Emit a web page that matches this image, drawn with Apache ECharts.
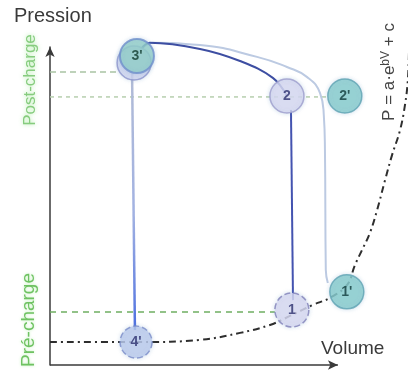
<!DOCTYPE html>
<html>
<head>
<meta charset="utf-8">
<title>Boucle pression-volume</title>
<script src="https://cdn.jsdelivr.net/npm/echarts@6/dist/echarts.min.js"></script>
<style>
  html, body { margin: 0; padding: 0; background: #ffffff; }
  #chart { width: 409px; height: 381px; }
</style>
</head>
<body>
<div id="chart"></div>
<script>
// Pressure-volume loop (arbitrary units; the drawn volume axis stops at 100)

// Labelled states of the cycle
const pointNames    = ["3", "3'", "2", "2'", "1", "1'", "4'"];
const pointVolume   = [29.2, 30.2, 82.3, 102.4, 84.0, 103.1, 29.9];
const pointPressure = [95.0, 97.2, 84.6, 84.6, 17.3, 23.0, 7.2];

// Ejection curve 3' -> 2 (dark loop)
const ejectVolume   = [30.2, 34.7, 52.1, 66.0, 77.4, 82.3];
const ejectPressure = [97.2, 101.3, 99.4, 95.6, 90.3, 84.6];

// Isovolumic contraction 2 -> 1
const contractVolume   = [83.7, 84.4];
const contractPressure = [80.2, 20.4];

// Isovolumic relaxation 3' -> 4'
const relaxVolume   = [28.5, 29.5];
const relaxPressure = [92.1, 11.0];

// Enlarged loop (after loading): top and right side
const loadVolume   = [30.2, 35.8, 52.1, 71.9, 82.3, 89.2, 93.8, 95.1, 95.5, 95.8, 96.5];
const loadPressure = [97.2, 101.3, 100.6, 96.9, 93.7, 90.6, 85.5, 78.6, 67.6, 29.9, 25.8];

// End-diastolic pressure-volume relation
const edpvrVolume   = [0, 31.3, 52.1, 66.0, 76.4, 84.0, 91.3, 97.2, 103.2, 105.9, 108.4, 111.1, 113.6, 116.4, 118.8, 121.6, 123.3, 124.3, 124.7];
const edpvrPressure = [7.2, 7.2, 7.9, 10.1, 12.6, 15.7, 18.9, 21.1, 25.2, 31.4, 36.2, 41.5, 48.7, 58.2, 66.0, 73.9, 81.8, 89.6, 99.1];

// Load levels
const afterloadHigh = 92.1;
const afterloadHighEnd = 23.6;
const afterload = 84.3;
const afterloadEnd = 96.0;
const preload = 16.7;
const preloadEnd = 78.1;

// Drawn extent of the volume axis
const volumeAxisEnd = 100;

const zip = (xs, ys) => xs.map((x, i) => [x, ys[i]]);

const lavender = { color: '#d9d9f1', borderColor: '#9c9ccc', borderWidth: 1.5 };
const teal = { color: '#86cccc', borderColor: '#5fa3b3', borderWidth: 1.5 };
const styles = {
  "3":  { color: '#d2d6f0', borderColor: '#8c94cc', borderWidth: 1.5 },
  "3'": { color: '#93d0c8', borderColor: '#6f8fcc', borderWidth: 2 },
  "2":  lavender,
  "2'": teal,
  "1":  Object.assign({}, lavender, { borderType: 'dashed', borderColor: '#8080b8' }),
  "1'": teal,
  "4'": { color: '#bccbec', borderColor: '#7a8cc8', borderWidth: 1.5, borderType: 'dashed' }
};
const textColor = { "3": '#2c2f6e', "3'": '#123c30', "2": '#2c2f6e', "2'": '#123c3c', "1": '#2c2f6e', "1'": '#123c3c', "4'": '#2c2f6e' };

const chart = echarts.init(document.getElementById('chart'), null, { renderer: 'canvas' });

const hiddenParts = {
  axisTick: { show: false }, axisLabel: { show: false }, splitLine: { show: false }
};

const dashed = (y, xEnd, color, dash, width) => ({
  type: 'line', data: [[0, y], [xEnd, y]], symbol: 'none', silent: true, z: 1,
  lineStyle: { color: color, width: width, type: dash }
});

const font = (size) => size + 'px "Liberation Sans", Arial, sans-serif';

chart.setOption({
  animation: false,
  grid: { left: 50, right: 2, top: 47, bottom: 16 },
  xAxis: Object.assign({ type: 'value', min: 0, max: 124, axisLine: { show: false } }, hiddenParts),
  yAxis: Object.assign({
    type: 'value', min: 0, max: 100,
    axisLine: { show: true, symbol: ['none', 'arrow'], symbolSize: [7, 10], lineStyle: { color: '#3a3a3a', width: 1.5 } }
  }, hiddenParts),
  series: [
    // volume axis with its arrow head
    {
      type: 'line', silent: true, z: 1, clip: false,
      data: [
        { value: [0, 0], symbol: 'none' },
        { value: [volumeAxisEnd, 0], symbol: 'arrow', symbolSize: [7, 10], symbolRotate: -90,
          itemStyle: { color: '#3a3a3a' } }
      ],
      lineStyle: { color: '#3a3a3a', width: 1.5 }
    },
    dashed(afterloadHigh, afterloadHighEnd, '#a9c4a4', [6, 4], 1.5),
    dashed(afterload, afterloadEnd, '#b7cfae', [4, 4], 1.5),
    dashed(preload, preloadEnd, '#6fae62', [6, 5], 1.5),
    {
      type: 'line', data: zip(edpvrVolume, edpvrPressure), symbol: 'none', smooth: 0.4, clip: false, z: 2,
      lineStyle: { color: '#2e2e2e', width: 2, type: [7, 4, 2, 4] }
    },
    {
      type: 'line', data: zip(loadVolume, loadPressure), symbol: 'none', smooth: 0.5, clip: false, z: 3,
      lineStyle: { color: '#bccae2', width: 2 }
    },
    {
      type: 'line', data: zip(relaxVolume, relaxPressure), symbol: 'none', clip: false, z: 3,
      lineStyle: {
        width: 2.5,
        color: new echarts.graphic.LinearGradient(0, 0, 0, 1, [
          { offset: 0, color: '#b2bcd6' },
          { offset: 0.55, color: '#a2b2e2' },
          { offset: 1, color: '#4b6ee0' }
        ])
      }
    },
    {
      type: 'line', data: zip(ejectVolume, ejectPressure), symbol: 'none', smooth: 0.4, clip: false, z: 4,
      lineStyle: { color: '#3d4ea2', width: 2 }
    },
    {
      type: 'line', data: zip(contractVolume, contractPressure), symbol: 'none', clip: false, z: 4,
      lineStyle: { color: '#4453b0', width: 2 }
    },
    {
      type: 'scatter', clip: false, z: 6,
      data: pointNames.map((n, i) => ({
        name: n,
        value: [pointVolume[i], pointPressure[i]],
        symbolSize: n === "4'" ? 32 : 34,
        itemStyle: Object.assign({ shadowBlur: 4, shadowColor: 'rgba(120,160,200,0.35)' }, styles[n]),
        label: {
          show: n !== "3", position: 'inside', formatter: n,
          fontFamily: 'Liberation Sans, Arial, sans-serif', fontWeight: 'bold', fontSize: 14,
          color: textColor[n]
        }
      }))
    }
  ],
  graphic: [
    { type: 'text', x: 14, y: 6, style: { text: 'Pression', font: font(20), fill: '#3a3a3a' } },
    { type: 'text', x: 321, y: 339, style: { text: 'Volume', font: font(19), fill: '#3a3a3a' } },
    {
      type: 'text', x: 30, y: 80, rotation: Math.PI / 2,
      style: {
        text: 'Post-charge', font: font(17), fill: '#86cc7e',
        align: 'center', verticalAlign: 'middle', textShadowBlur: 4, textShadowColor: 'rgba(150,230,140,0.8)'
      }
    },
    {
      type: 'text', x: 29, y: 320, rotation: Math.PI / 2,
      style: {
        text: 'Pré-charge', font: font(19), fill: '#6fc262',
        align: 'center', verticalAlign: 'middle', textShadowBlur: 3, textShadowColor: 'rgba(150,230,140,0.6)'
      }
    },
    {
      type: 'text', x: 389, y: 72, rotation: Math.PI / 2,
      style: {
        text: '{a|P = a·e}{s|bV}{a| + c}',
        align: 'center', verticalAlign: 'middle',
        rich: {
          a: { font: font(17), fill: '#444444', color: '#444444' },
          s: { font: font(12), fill: '#444444', color: '#444444', verticalAlign: 'top', padding: [0, 0, 7, 0] }
        }
      }
    }
  ]
});
</script>
</body>
</html>
